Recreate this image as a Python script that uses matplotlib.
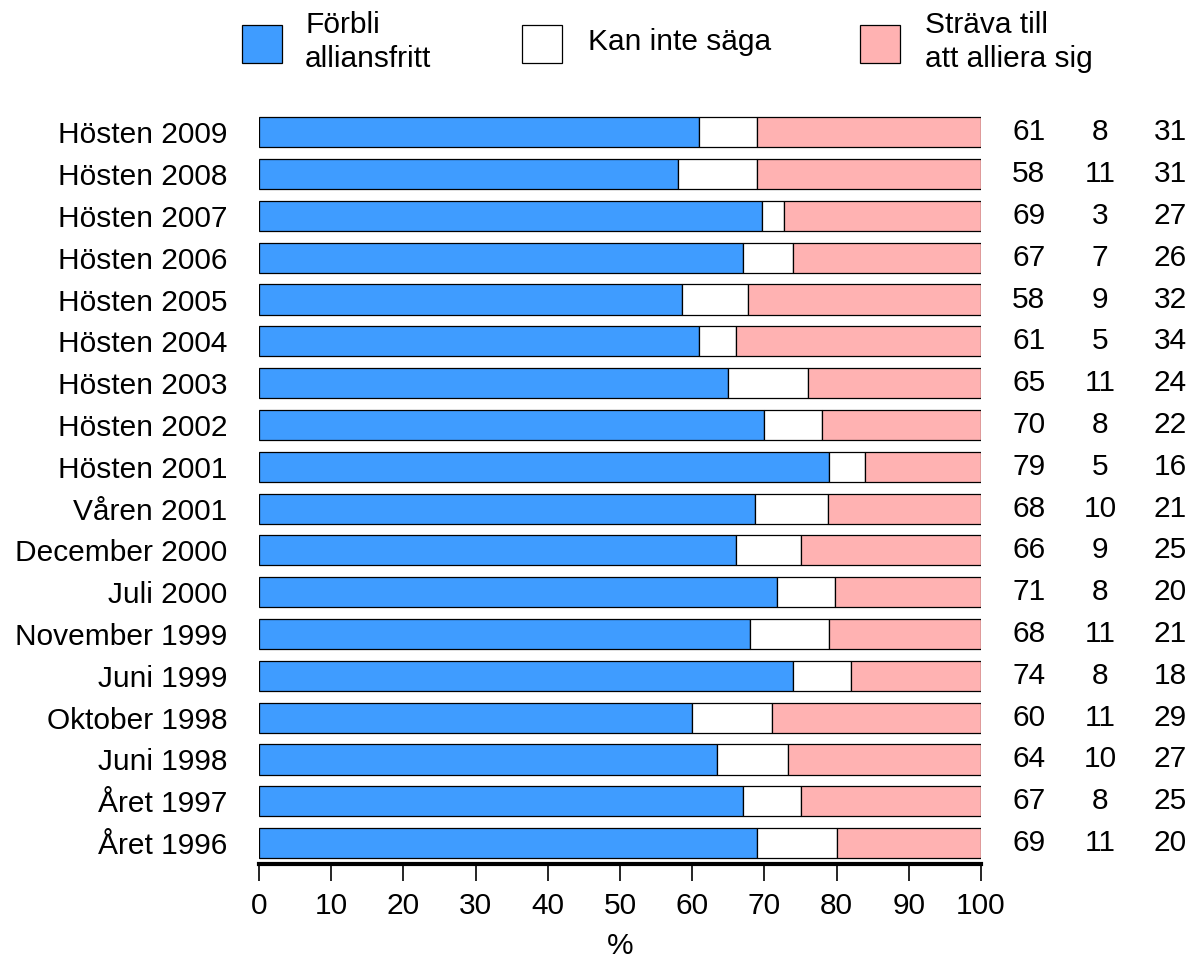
import numpy as np
import matplotlib
matplotlib.use("Agg")
from matplotlib import pyplot as plt
from matplotlib.patches import Rectangle

plt.rcParams['font.family'] = ['Liberation Sans', 'DejaVu Sans']

periods = ["Året 1996", "Året 1997", "Juni 1998", "Oktober 1998", "Juni 1999",
           "November 1999", "Juli 2000", "December 2000", "Våren 2001",
           "Hösten 2001", "Hösten 2002", "Hösten 2003", "Hösten 2004",
           "Hösten 2005", "Hösten 2006", "Hösten 2007", "Hösten 2008",
           "Hösten 2009"]
alliansfritt = [69, 67, 64, 60, 74, 68, 71, 66, 68, 79, 70, 65, 61, 58, 67, 69, 58, 61]
vet_ej = [11, 8, 10, 11, 8, 11, 8, 9, 10, 5, 8, 11, 5, 9, 7, 3, 11, 8]
alliera = [20, 25, 27, 29, 18, 21, 20, 25, 21, 16, 22, 24, 34, 32, 26, 27, 31, 31]

series_names = ["Förbli\nalliansfritt", "Kan inte säga", "Sträva till\natt alliera sig"]
colors = ["#3F9CFF", "#FFFFFF", "#FFB2B2"]

vals = np.array([alliansfritt, vet_ej, alliera], dtype=float)
shares = vals / vals.sum(axis=0) * 100

fs = 21.5

fig = plt.figure(figsize=(11.97, 9.6), dpi=100)
ax = fig.add_axes([259 / 1197, 0.1, 722 / 1197, 0.784])

y = np.arange(len(periods))
left = np.zeros(len(periods))
for k in range(3):
    ax.barh(y, shares[k], left=left, height=0.72, color=colors[k],
            edgecolor="black", linewidth=0.9)
    left += shares[k]

# numbers to the right
for k, xpos in enumerate([106.6, 116.5, 126.2]):
    for i in range(len(periods)):
        ax.text(xpos, y[i], str(int(vals[k, i])), ha="center", va="center",
                fontsize=fs, clip_on=False)

ax.set_xlim(0, 100)
ax.set_ylim(-0.5, len(periods) - 0.5)
ax.set_xticks(np.arange(0, 101, 10))
ax.set_yticks(y)
ax.set_yticklabels(periods, fontsize=fs)
ax.tick_params(axis="y", length=0, pad=23)
ax.tick_params(axis="x", length=12, width=1.2, labelsize=fs, pad=8)
for s in ["left", "right", "top"]:
    ax.spines[s].set_visible(False)
ax.spines["bottom"].set_linewidth(3)
ax.set_xlabel("%", fontsize=fs, labelpad=9)

# legend
leg_x = [242, 522, 860]
txt_x = [305, 588, 925]
for k in range(3):
    fig.patches.append(Rectangle((leg_x[k] / 1197, 1 - 63 / 960), 40 / 1197, 38 / 960,
                                 transform=fig.transFigure, facecolor=colors[k],
                                 edgecolor="black", linewidth=0.9))
    fig.text(txt_x[k] / 1197, 1 - 42 / 960, series_names[k], ha="left", va="center",
             fontsize=fs, linespacing=1.3)

plt.savefig("out.png", dpi=100)
